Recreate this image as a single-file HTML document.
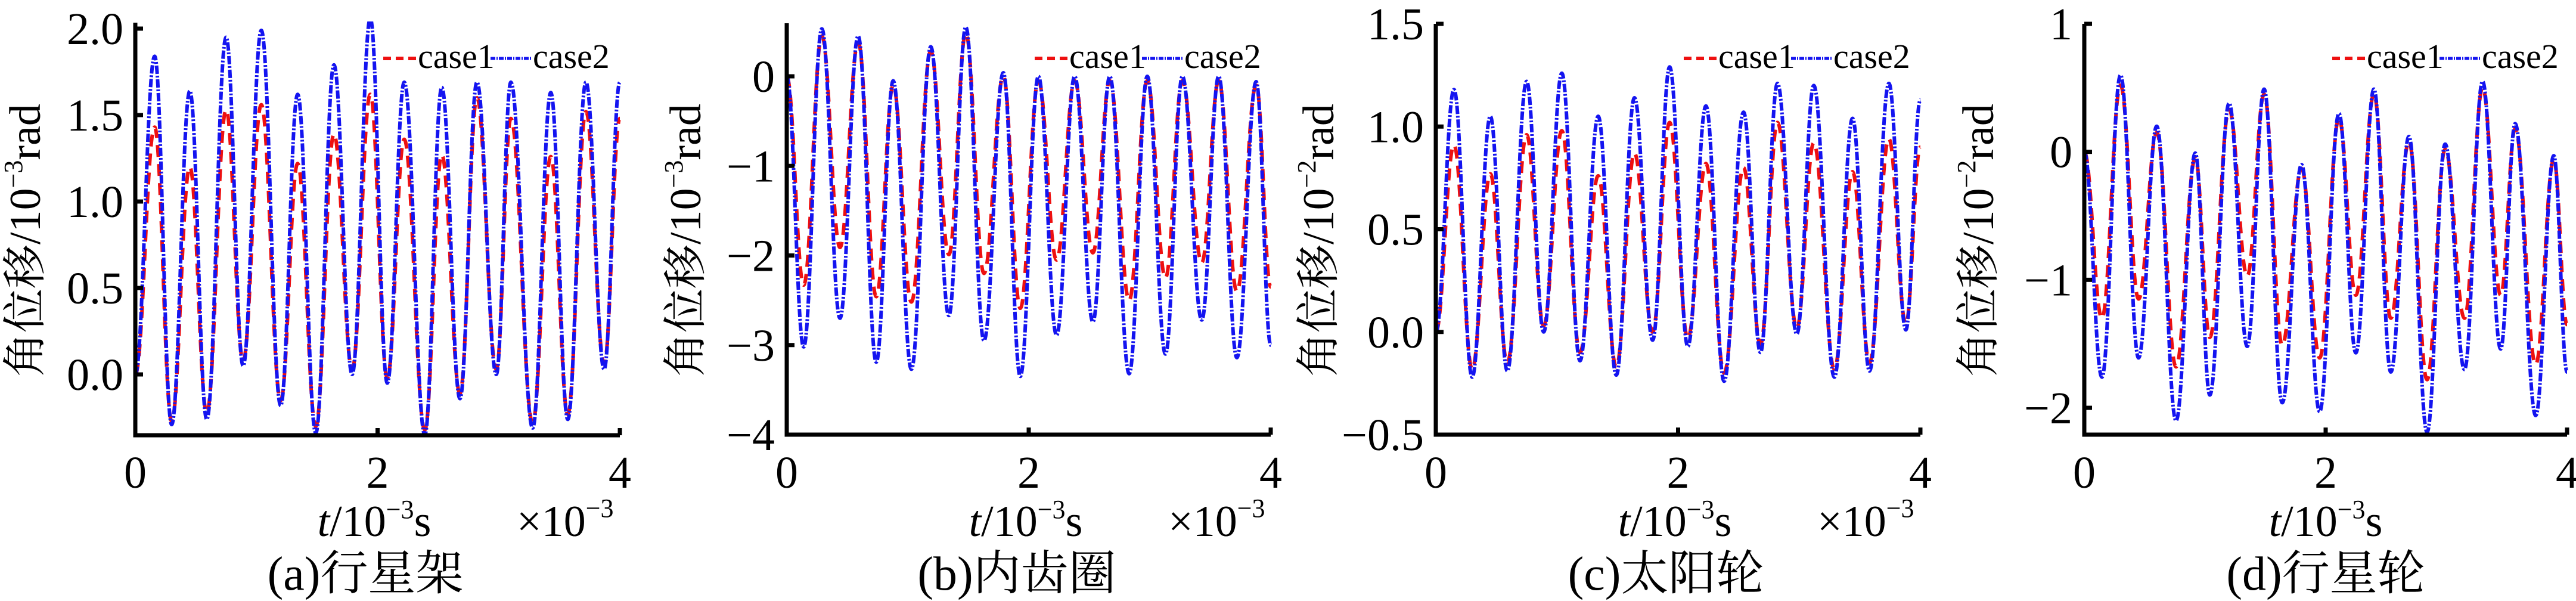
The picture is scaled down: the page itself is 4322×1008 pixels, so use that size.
<!DOCTYPE html>
<html><head><meta charset="utf-8">
<style>
html,body{margin:0;padding:0;background:#fff;}
svg{display:block;}
text{font-family:"Liberation Serif","Noto Serif CJK SC","Noto Sans CJK SC",serif;fill:#000;}
</style></head>
<body>
<svg id="fig" xmlns="http://www.w3.org/2000/svg" width="4322" height="1008" viewBox="0 0 4322 1008"></svg>
<script>
// ---- data (t in 1e-3 s) ----
const aTimes=[0,0.16,0.30,0.45,0.59,0.75,0.89,1.04,1.20,1.34,1.49,1.64,1.79,1.94,2.08,2.22,2.39,2.53,2.68,2.82,2.98,3.10,3.28,3.43,3.57,3.72,3.87,4.0];
const aCase2=[0,1.84,-0.29,1.64,-0.26,1.95,0.05,1.99,-0.18,1.62,-0.34,1.79,0.00,2.06,-0.05,1.69,-0.35,1.66,-0.14,1.69,0.00,1.69,-0.31,1.63,-0.26,1.69,0.03,1.69];
const aCase1=[0,1.43,-0.27,1.20,-0.22,1.53,0.08,1.56,-0.15,1.22,-0.30,1.39,0.03,1.62,-0.02,1.36,-0.32,1.27,-0.11,1.60,0.03,1.48,-0.28,1.26,-0.23,1.52,0.06,1.48];
const aYTicks=[0,0.5,1.0,1.5,2.0];
const aYLabels=["0.0","0.5","1.0","1.5","2.0"];

const bTimes=[0,0.14,0.29,0.44,0.59,0.74,0.88,1.03,1.19,1.34,1.48,1.63,1.79,1.93,2.08,2.23,2.38,2.53,2.67,2.83,2.98,3.13,3.27,3.43,3.57,3.72,3.88,4.0];
const bCase2=[0,-3.02,0.53,-2.70,0.45,-3.19,-0.05,-3.27,0.33,-2.67,0.55,-2.95,0.04,-3.35,0,-2.89,0,-2.74,0,-3.32,0,-3.10,0,-2.72,0,-3.14,-0.06,-3.0];
const bCase1=[0,-2.33,0.45,-1.91,0.38,-2.46,-0.10,-2.52,0.28,-1.99,0.48,-2.20,0,-2.59,-0.05,-2.05,-0.05,-1.97,-0.05,-2.50,-0.05,-2.25,-0.05,-2.08,-0.05,-2.40,-0.10,-2.35];
const bYTicks=[-4,-3,-2,-1,0];
const bYLabels=["\u22124","\u22123","\u22122","\u22121","0"];

const cTimes=[0,0.15,0.30,0.45,0.59,0.75,0.89,1.04,1.19,1.34,1.49,1.64,1.79,1.93,2.08,2.23,2.38,2.54,2.68,2.82,2.98,3.12,3.29,3.44,3.58,3.74,3.88,4.0];
const cCase2=[0,1.18,-0.22,1.05,-0.19,1.22,0.0,1.26,-0.14,1.05,-0.21,1.14,-0.04,1.29,-0.07,1.10,-0.24,1.07,-0.10,1.21,-0.01,1.20,-0.22,1.04,-0.19,1.21,0.01,1.13];
const cCase1=[0,0.91,-0.18,0.77,-0.15,0.96,0.03,0.98,-0.10,0.76,-0.17,0.87,0,1.02,-0.03,0.82,-0.20,0.80,-0.06,1.02,0.02,0.92,-0.18,0.78,-0.15,0.94,0.04,0.90];
const cYTicks=[-0.5,0,0.5,1.0,1.5];
const cYLabels=["\u22120.5","0.0","0.5","1.0","1.5"];

const dTimes=[0,0.146,0.30,0.45,0.60,0.76,0.92,1.04,1.20,1.35,1.49,1.64,1.80,1.95,2.11,2.25,2.40,2.54,2.69,2.84,2.99,3.15,3.30,3.45,3.57,3.74,3.89,4.0];
const dCase2=[0,-1.76,0.60,-1.61,0.20,-2.10,-0.01,-1.90,0.38,-1.52,0.49,-1.96,-0.10,-2.03,0.30,-1.57,0.49,-1.72,0.12,-2.19,0.06,-1.70,0.55,-1.54,0.22,-2.06,-0.03,-1.72];
const dCase1=[0,-1.30,0.52,-1.15,0.15,-1.68,-0.05,-1.45,0.33,-0.97,0.45,-1.51,-0.13,-1.61,0.26,-1.12,0.45,-1.30,0.08,-1.78,0.02,-1.30,0.50,-1.12,0.18,-1.66,-0.06,-1.35];
const dYTicks=[-2,-1,0,1];
const dYLabels=["\u22122","\u22121","0","1"];

const xTicks=[0,2,4];
const xLabels=["0","2","4"];

const NS="http://www.w3.org/2000/svg";
const svg=document.getElementById('fig');
function mk(tag,attrs,parent){const e=document.createElementNS(NS,tag);for(const k in attrs)e.setAttribute(k,attrs[k]);(parent||svg).appendChild(e);return e;}

const panels=[
 {id:'a',x0:227,x1:1040,yTop:38,yBot:730,vTopPx:48,vTop:2.0,vRefPx:628,vRef:0,times:aTimes,c1:aCase1,c2:aCase2,yt:aYTicks,yl:aYLabels,cap:"(a)行星架",yexp:"-3",xmul:true,ytx:42},
 {id:'b',x0:1320,x1:2132,yTop:39,yBot:729,vTopPx:128,vTop:0,vRefPx:729,vRef:-4,times:bTimes,c1:bCase1,c2:bCase2,yt:bYTicks,yl:bYLabels,cap:"(b)内齿圈",yexp:"-3",xmul:true,ytx:1150},
 {id:'c',x0:2409,x1:3222,yTop:40,yBot:729,vTopPx:40,vTop:1.5,vRefPx:729,vRef:-0.5,times:cTimes,c1:cCase1,c2:cCase2,yt:cYTicks,yl:cYLabels,cap:"(c)太阳轮",yexp:"-2",xmul:true,ytx:2212},
 {id:'d',x0:3497,x1:4307,yTop:40,yBot:729,vTopPx:40,vTop:1,vRefPx:684,vRef:-2,times:dTimes,c1:dCase1,c2:dCase2,yt:dYTicks,yl:dYLabels,cap:"(d)行星轮",yexp:"-2",xmul:false,ytx:3319}
];

panels.forEach(p=>{
  const g=mk('g',{});
  
  
  const xs=t=>p.x0+(t/4)*(p.x1-p.x0);
  const ys=v=>p.vRefPx+(v-p.vRef)*(p.vTopPx-p.vRefPx)/(p.vTop-p.vRef);
  const clip=mk('clipPath',{id:'clip-'+p.id},g);
  mk('rect',{x:p.x0,y:p.yTop-2,width:p.x1-p.x0+4,height:p.yBot-p.yTop+2},clip);
  function pathFor(ts,vs){
    let d='M'+xs(ts[0]).toFixed(1)+' '+ys(vs[0]).toFixed(1);
    for(let i=1;i<ts.length;i++){
      const xa=xs(ts[i-1]),xb=xs(ts[i]),ya=ys(vs[i-1]),yb=ys(vs[i]);
      const dx=xb-xa;
      d+=' C'+(xa+dx*0.4).toFixed(1)+' '+ya.toFixed(1)+' '+(xb-dx*0.4).toFixed(1)+' '+yb.toFixed(1)+' '+xb.toFixed(1)+' '+yb.toFixed(1);
    }
    return d;
  }
  const s1=mk('path',{d:pathFor(p.times,p.c1),fill:'none',stroke:'#ee1010','stroke-width':6,'stroke-dasharray':'20 12','clip-path':'url(#clip-'+p.id+')'},g);
  
  
  const s2=mk('path',{d:pathFor(p.times,p.c2),fill:'none',stroke:'#1414f0','stroke-width':6,'stroke-dasharray':'14 3 3 3','clip-path':'url(#clip-'+p.id+')'},g);
  
  
  // axes
  const ax=mk('path',{d:`M${p.x0} ${p.yTop} L${p.x0} ${p.yBot} L${p.x1} ${p.yBot}`,fill:'none',stroke:'#000','stroke-width':7},g);
  
  
  p.yt.forEach((v,i)=>{
    const y=ys(v);
    mk('line',{x1:p.x0,x2:p.x0+13,y1:y,y2:y,stroke:'#000','stroke-width':7},g);
    const t=mk('text',{x:p.x0-20,y:y+26,'text-anchor':'end','font-size':76},g);
    t.textContent=p.yl[i];
    
    
  });
  xTicks.forEach((v,i)=>{
    const x=xs(v);
    mk('line',{x1:x,x2:x,y1:p.yBot,y2:p.yBot-12,stroke:'#000','stroke-width':7},g);
    const t=mk('text',{x:x,y:818,'text-anchor':'middle','font-size':76},g);
    t.textContent=xLabels[i];
    
    
  });
  // x title
  const xt=mk('text',{x:p.id==='d'?3902:p.x0+401,y:899,'text-anchor':'middle','font-size':74},g);
  xt.innerHTML='<tspan font-style="italic">t</tspan>/10<tspan font-size="44" dy="-30">\u22123</tspan><tspan dy="30">s</tspan>';
  
  
  if(p.xmul){
    const m=mk('text',{x:p.x0+640,y:899,'font-size':74},g);
    m.innerHTML='\u00d710<tspan font-size="44" dy="-32">\u22123</tspan>';
    
    
  }
  // y title
  const yt=mk('text',{x:0,y:0,'text-anchor':'middle','font-size':74,transform:`translate(${p.ytx+25},403) rotate(-90)`},g);
  yt.innerHTML='角位移/10<tspan font-size="44" dy="-30">\u2212'+p.yexp.slice(1)+'</tspan><tspan dy="30">rad</tspan>';
  
  
  // caption
  const cp=mk('text',{x:p.id==='d'?3902:p.x0+386,y:989,'text-anchor':'middle','font-size':80},g);
  cp.textContent=p.cap;
  
  
  // legend
  const lx=p.x0+416;
  const lg=mk('g',{},g);
  
  
  mk('line',{x1:lx,x2:lx+55,y1:98,y2:98,stroke:'#ee1010','stroke-width':6,'stroke-dasharray':'13 8'},lg);
  const l1=mk('text',{x:lx+58,y:114,'font-size':58},lg);
  l1.textContent='case1';
  
  
  mk('line',{x1:lx+180,x2:lx+248,y1:98,y2:98,stroke:'#1414f0','stroke-width':5,'stroke-dasharray':'8 2 2 2'},lg);
  const l2=mk('text',{x:lx+251,y:114,'font-size':58},lg);
  l2.textContent='case2';
  
  
});
</script>
</body></html>
